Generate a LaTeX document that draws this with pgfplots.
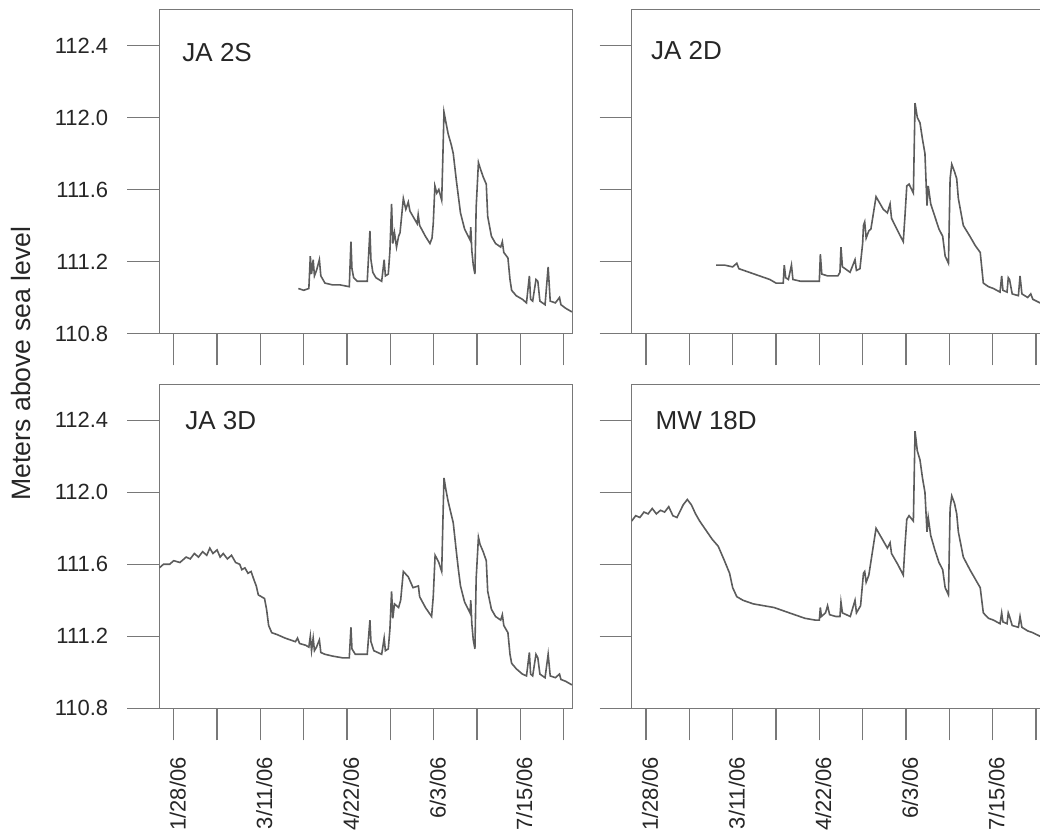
\documentclass[border=0pt]{standalone}
\usepackage{pgfplots}
\pgfplotsset{compat=1.18}
\usepackage{fontspec}
\setmainfont{Liberation Sans}

\definecolor{traceclr}{RGB}{92,92,92}
\definecolor{frameclr}{RGB}{120,120,120}

% Water levels (m above sea level) against day of year 2006
\pgfplotstableread{
day lev
88.4 111.05
91 111.04
93.5 111.05
94.2 111.23
94.8 111.13
95.6 111.21
96.2 111.12
97.2 111.15
98.6 111.21
99.3 111.12
101.3 111.08
105 111.07
108.6 111.07
113.1 111.06
113.9 111.31
114.4 111.16
115.2 111.11
117 111.09
121.8 111.09
123.1 111.37
123.6 111.21
124.5 111.14
126 111.11
128.8 111.09
130 111.21
130.6 111.12
132 111.13
132.8 111.26
133.6 111.52
134.2 111.30
135 111.36
136 111.28
137 111.34
137.7 111.36
139.3 111.55
140.5 111.49
141.7 111.53
142.5 111.48
144 111.45
146 111.41
146.5 111.46
147.2 111.40
150 111.34
152.2 111.30
153.2 111.33
153.8 111.41
154.6 111.62
155.5 111.58
156.5 111.60
157.9 111.54
158.5 111.80
159 112.03
160 111.97
161 111.91
162.5 111.85
163.5 111.80
165 111.65
166 111.56
167 111.47
169 111.38
171.6 111.32
172 111.39
172.5 111.26
173.2 111.18
174 111.13
174.6 111.50
175.7 111.75
176.5 111.72
178 111.67
179.5 111.63
180.2 111.45
182 111.34
184 111.30
186.5 111.28
187.3 111.31
188 111.25
190 111.22
191 111.10
191.8 111.04
194 111.01
197 110.99
199 110.97
200.4 111.12
201 110.99
202 110.98
203.6 111.10
204.5 111.09
205.5 110.98
208 110.96
209.5 111.17
210.5 110.98
213 110.97
215 111.00
215.7 110.96
218 110.94
221 110.92
}\jaTwoS

\pgfplotstableread{
day lev
62 111.18
66 111.18
70 111.17
72 111.19
73 111.16
78 111.14
83 111.12
88 111.10
91 111.08
94.5 111.08
95 111.18
95.7 111.11
97 111.10
98.5 111.18
99.2 111.10
103 111.09
108 111.09
112 111.09
112.5 111.24
113.2 111.13
116 111.12
121 111.12
122 111.14
122.5 111.28
123.2 111.17
124.5 111.16
126.9 111.14
129.3 111.21
130 111.15
131.7 111.16
133 111.30
133.4 111.40
134 111.42
134.7 111.33
136 111.37
137 111.38
139.5 111.56
141 111.53
143 111.49
145 111.47
146.3 111.52
147 111.44
150 111.37
152.7 111.31
153.5 111.45
154.4 111.62
155.5 111.63
157.6 111.58
158.4 112.08
159.5 112.00
160.8 111.97
162 111.88
163.2 111.80
164.2 111.51
164.8 111.62
166 111.52
168 111.45
170 111.38
171.8 111.34
173 111.23
174.6 111.19
175.4 111.66
176.2 111.74
177.5 111.70
178.6 111.66
179.4 111.55
181.8 111.40
185 111.34
187.5 111.29
190 111.25
191.5 111.08
194 111.06
196.4 111.05
199.6 111.03
200.4 111.12
201 111.04
203 111.03
203.6 111.11
204.2 111.10
205.5 111.02
208.5 111.01
209.3 111.12
210.2 111.02
213 111.00
214.5 111.02
215.5 110.99
219 110.97
221 110.96
}\jaTwoD

\pgfplotstableread{
day lev
21 111.58
23 111.60
26 111.60
28 111.62
31 111.61
34 111.64
36 111.63
38 111.66
40 111.64
42 111.67
44 111.65
45.5 111.69
47 111.66
49 111.68
50.5 111.64
52 111.66
54 111.63
56 111.65
58 111.61
60 111.60
61 111.57
62.5 111.58
64 111.55
65.5 111.56
67 111.51
68 111.48
69 111.43
70.5 111.42
72 111.41
73 111.35
74 111.26
75.5 111.22
78 111.21
82 111.19
87 111.17
88 111.19
89 111.16
92 111.15
93.5 111.14
94.2 111.20
94.8 111.12
95.6 111.19
96.2 111.12
97.2 111.14
98.6 111.18
99.3 111.11
101.3 111.10
105 111.09
110 111.08
113.1 111.08
113.9 111.25
114.4 111.13
116 111.10
121.8 111.10
123.1 111.29
123.6 111.17
125 111.12
128.8 111.10
130 111.19
130.6 111.12
132 111.13
132.8 111.24
133.6 111.45
134.2 111.30
135 111.38
137 111.36
138 111.40
139.3 111.56
141.7 111.53
144 111.47
146.6 111.48
147.2 111.42
150 111.36
153 111.31
153.8 111.42
154.7 111.65
156.5 111.61
157.9 111.56
158.5 111.85
159 112.08
160 112.01
161 111.95
163.5 111.83
165 111.67
166 111.57
167 111.48
169 111.39
171.6 111.33
172 111.40
172.5 111.27
173.2 111.18
174 111.13
174.6 111.52
175.7 111.75
176.5 111.71
178 111.67
179.5 111.62
180.2 111.45
182 111.35
184 111.31
186.5 111.29
187.3 111.32
188 111.26
190 111.22
191 111.10
191.8 111.05
194 111.02
197 110.99
199 110.98
200.4 111.11
201 110.99
202 110.98
203.6 111.10
204.5 111.08
205.5 110.99
208 110.97
209.5 111.10
210.5 110.98
213 110.97
215 110.99
215.7 110.96
218 110.95
221 110.93
}\jaThreeD

\pgfplotstableread{
day lev
21 111.84
23 111.87
25 111.86
27 111.89
29 111.88
31 111.91
33 111.88
35 111.90
37 111.89
39 111.92
41 111.87
43 111.86
46 111.93
48 111.96
50 111.93
52 111.88
54 111.84
57 111.79
60 111.74
63 111.70
66 111.62
68.5 111.55
70 111.47
72 111.42
75 111.40
80 111.38
85 111.37
90 111.36
95 111.34
100 111.32
105 111.30
110 111.29
112 111.29
112.5 111.36
113 111.31
115 111.33
116 111.37
117 111.32
120 111.31
122 111.31
122.5 111.39
123.2 111.33
127 111.31
129.3 111.40
130 111.33
132 111.37
133.4 111.55
134 111.56
134.7 111.50
136 111.54
139.5 111.80
141 111.77
143 111.73
145 111.69
146.3 111.72
147 111.66
150 111.60
152.7 111.54
153.5 111.70
154.4 111.85
155.5 111.87
157.6 111.84
158.4 112.34
159.5 112.23
160.8 112.18
162 112.08
163.2 112.00
164.2 111.78
164.8 111.86
166 111.76
168 111.68
170 111.61
171.8 111.57
173 111.47
174.6 111.43
175.4 111.91
176.2 111.98
177.5 111.94
178.6 111.88
179.4 111.78
181.8 111.64
185 111.57
187.5 111.52
190 111.47
191.5 111.33
194 111.30
196.4 111.29
199.6 111.27
200.4 111.33
201 111.28
203 111.27
203.6 111.33
204.2 111.31
205.5 111.26
208.5 111.25
209.3 111.31
210.2 111.25
213 111.23
215.5 111.22
219 111.20
221 111.19
}\mwEighteenD

\tikzset{
  tag/.style={font=\fontsize{13}{15}\selectfont, anchor=west, text=black!85},
}
\pgfplotsset{
  panel/.style={
    scale only axis,
    width=206.7pt, height=162pt,
    anchor=south west,
    xmin=21, xmax=221.4,
    ymin=110.8, ymax=112.6,
    xtick={28,49,70,91,112,133,154,175,196,217},
    ytick={110.8,111.2,111.6,112.0,112.4},
    xtick pos=bottom, ytick pos=left,
    tick align=outside,
    major tick length=16pt,
    axis line style={frameclr, line width=0.7pt},
    every tick/.style={frameclr, line width=0.7pt},
    tick label style={font=\fontsize{11}{13}\selectfont, text=black!85},
    /pgf/number format/.cd, fixed, fixed zerofill, precision=1,
    assume math mode=true, 1000 sep={},
    /pgfplots/.cd,
    yticklabel style={xshift=-6pt},
    xticklabel style={rotate=90, anchor=east, yshift=-2pt},
    xticklabel shift=5pt,
    clip=true,
  },
  datelabels/.style={
    xticklabels={1/28/06,{},3/11/06,{},4/22/06,{},6/3/06,{},7/15/06,{}},
  },
  nox/.style={xticklabels={}},
  noy/.style={yticklabels={}},
  trace/.style={color=traceclr, line width=0.8pt, no markers},
}

\begin{document}
\begin{tikzpicture}
% top left
\begin{axis}[panel, nox, at={(79.65pt,250.25pt)}]
  \addplot[trace] table[x=day, y=lev] {\jaTwoS};
  \node[tag] at (rel axis cs:0.039,0.868) {JA 2S};
\end{axis}
% top right
\begin{axis}[panel, nox, noy, at={(315.8pt,250.25pt)}]
  \addplot[trace] table[x=day, y=lev] {\jaTwoD};
  \node[tag] at (rel axis cs:0.030,0.873) {JA 2D};
\end{axis}
% bottom left
\begin{axis}[panel, datelabels, at={(79.65pt,62.85pt)}]
  \addplot[trace] table[x=day, y=lev] {\jaThreeD};
  \node[tag] at (rel axis cs:0.046,0.889) {JA 3D};
\end{axis}
% bottom right
\begin{axis}[panel, datelabels, noy, at={(315.8pt,62.85pt)}]
  \addplot[trace] table[x=day, y=lev] {\mwEighteenD};
  \node[tag] at (rel axis cs:0.041,0.889) {MW 18D};
\end{axis}
\node[rotate=90, anchor=base, font=\fontsize{13.3}{15}\selectfont, text=black!85]
  at (15.5pt,235.2pt) {Meters above sea level};
\pgfresetboundingbox
\path[use as bounding box] (0,0) rectangle (520pt,417pt);
\end{tikzpicture}
\end{document}
